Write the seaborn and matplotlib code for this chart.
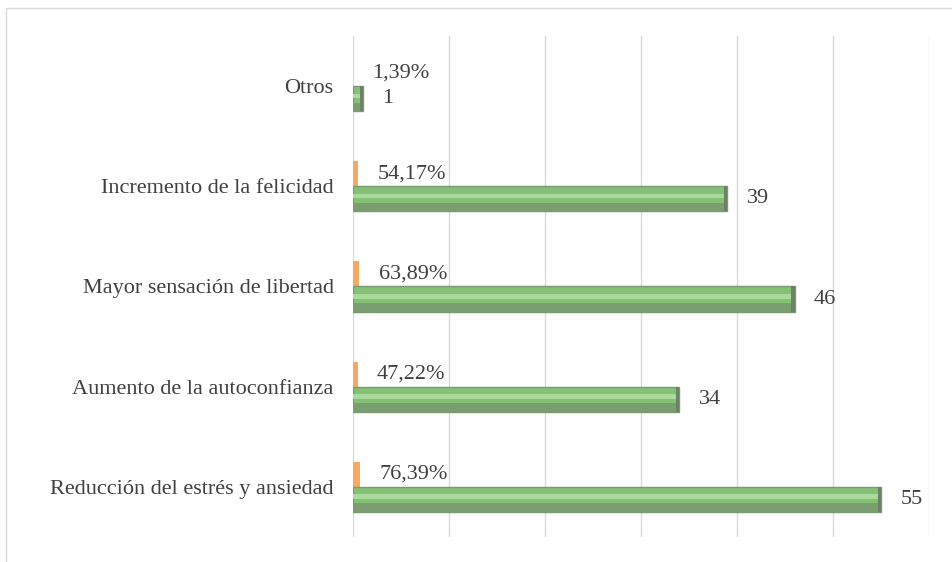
import numpy as np
import pandas as pd
import seaborn as sns
import matplotlib.pyplot as plt
from matplotlib.patches import Rectangle

categorias = ["Otros",
              "Incremento de la felicidad",
              "Mayor sensación de libertad",
              "Aumento de la autoconfianza",
              "Reducción del estrés y ansiedad"]
cantidad = [1, 39, 46, 34, 55]
porcentaje = [1.39, 54.17, 63.89, 47.22, 76.39]

df = pd.DataFrame({
    "categoria": categorias * 2,
    "serie": ["Porcentaje"] * 5 + ["Cantidad"] * 5,
    "valor": [p / 100 for p in porcentaje] + cantidad,
})

sns.set_theme(style="white")
plt.rcParams['font.family'] = ['Liberation Serif', 'DejaVu Serif']

fig = plt.figure(figsize=(9.53, 5.62), dpi=100)
ax = fig.add_axes([0.3704, 0.0445, 0.6044, 0.8915])

sns.barplot(data=df, y="categoria", x="valor", hue="serie", order=categorias,
            hue_order=["Porcentaje", "Cantidad"],
            palette={"Porcentaje": "#f7a862", "Cantidad": "#84c174"},
            saturation=1, width=0.5, dodge=True, orient="h", legend=False, ax=ax)

# bevel look on the green bars
for p in ax.containers[1]:
    p.set_edgecolor("#7a9a72")
    p.set_linewidth(1.0)
    x0, y0 = p.get_x(), p.get_y()
    w, h = p.get_width(), p.get_height()
    z = p.get_zorder()
    ax.add_patch(Rectangle((x0, y0 + h * 0.66), w, h * 0.34,
                           facecolor="#7a9e70", edgecolor="none", zorder=z + 0.1))
    ax.add_patch(Rectangle((x0, y0 + h * 0.30), w, h * 0.18,
                           facecolor="#a9da9b", edgecolor="none", zorder=z + 0.1))
    e = min(0.35, w * 0.3)
    ax.add_patch(Rectangle((x0 + w - e, y0), e, h,
                           facecolor="#6f8069", edgecolor="none", zorder=z + 0.2))
for p in ax.containers[0]:
    p.set_edgecolor("none")

ax.bar_label(ax.containers[0], labels=[f"{v:.2f}%".replace(".", ",") for v in porcentaje],
             padding=14, fontsize=16, color="#404040")
ax.bar_label(ax.containers[1], labels=[str(v) for v in cantidad],
             padding=14, fontsize=16, color="#404040")

ax.set_xlim(0, 60)
ax.set_xticks(np.arange(0, 61, 10))
ax.set_xticklabels([])
ax.tick_params(axis="x", length=0)
ax.tick_params(axis="y", length=0, pad=14, labelsize=16, labelcolor="#404040")
ax.grid(axis="x", color="#d9d9d9", linewidth=1)
ax.set_axisbelow(True)
for s in ax.spines.values():
    s.set_visible(False)
ax.set_xlabel("")
ax.set_ylabel("")

fig.patches.append(Rectangle((0.006, -0.01), 1.0, 0.996, transform=fig.transFigure,
                             facecolor="none", edgecolor="#d9d9d9", linewidth=1))

fig.savefig("out.png", dpi=100)
